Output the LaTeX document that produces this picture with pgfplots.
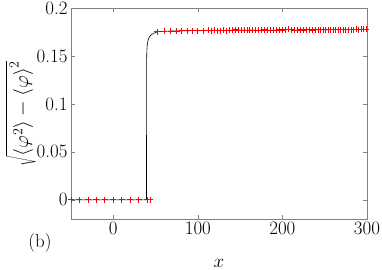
\RequirePackage{fix-cm}
\documentclass[border=0pt]{standalone}
\usepackage{pgfplots}
\pgfplotsset{compat=1.18}
\usepackage{pgfplotstable}
\usetikzlibrary{calc}

\pgfplotstableread{
x y
-50 0
-40 0
-30 0
-20 0
-10 0
0 0
10 0
20 0
30 0
40 0
43.5 0
}\redlow

\pgfplotstableread{
x y
52 .1752
60 .1757
68 .1760
75 .1761
81 .1762
88 .1763
94 .1764
100 .1765
106 .1764
112 .1766
116 .1762
119.5 .1768
123 .1765
126.5 .1763
130 .1767
133.5 .1764
137 .1769
140.5 .1770
144 .1774
147.5 .1771
151 .1766
154.5 .1769
158 .1767
161.5 .1771
165 .1768
168.5 .1770
172 .1767
175.5 .1769
179 .1772
182.5 .1768
186 .1770
189.5 .1766
193 .1771
196.5 .1773
200 .1770
203.5 .1775
207 .1777
210.5 .1772
214 .1768
217.5 .1770
221 .1772
224.5 .1769
228 .1772
231.5 .1774
235 .1771
238.5 .1773
242 .1772
245 .1774
248 .1773
251 .1774
254 .1773
257 .1775
260 .1774
263 .1775
266 .1774
269 .1775
272 .1775
275 .1774
278 .1775
281 .1775
284 .1775
287 .1776
290 .1775
293 .1776
296 .1776
299 .1776
}\redhigh

\pgfplotstableread{
x y
-50 0
39.3 0
39.35 0.10
39.45 0.145
39.7 0.156
40.2 0.162
41 0.166
42.5 0.1695
44.5 0.1718
48 0.1738
52 0.1752
}\blackjump

\begin{document}
\begin{tikzpicture}[font=\fontsize{19}{23}\selectfont]
\begin{axis}[
  scale only axis,
  width=296bp, height=211bp,
  xmin=-50, xmax=300, ymin=-0.02, ymax=0.2,
  xtick={0,100,200,300},
  ytick={0,0.05,0.1,0.15,0.2},
  yticklabels={0,0.05,0.1,0.15,0.2},
  scaled y ticks=false,
  tick align=inside,
  major tick length=4bp,
  axis line style={black!50, line width=0.6bp},
  every tick/.style={black!50, line width=0.6bp},
  xlabel={$x$},
  ylabel={$\sqrt{\left\langle\varphi^2\right\rangle-\left\langle\varphi\right\rangle^2}$},
  xlabel style={at={(axis description cs:0.5,-0.209)}, anchor=center},
  ylabel style={at={(axis description cs:-0.170,0.5)}, anchor=center, font=\fontsize{20}{24}\selectfont, inner sep=0pt},
  clip=false,
]
\coordinate (sw) at (rel axis cs:0,0);
\coordinate (ne) at (rel axis cs:1,1);
\addplot[black, line width=0.6bp, no marks] table {\blackjump};
\addplot[black, line width=0.6bp, no marks] table {\redhigh};
\addplot[red, only marks, mark=+, mark size=3bp, line width=0.8bp] table {\redlow};
\addplot[red, only marks, mark=+, mark size=3bp, line width=0.8bp] table {\redhigh};
\node at (axis description cs:-0.105,-0.114) {(b)};
\end{axis}
\pgfresetboundingbox
\path[use as bounding box] ($(sw)+(-71bp,-51bp)$) rectangle ($(ne)+(15bp,8bp)$);
\end{tikzpicture}
\end{document}
